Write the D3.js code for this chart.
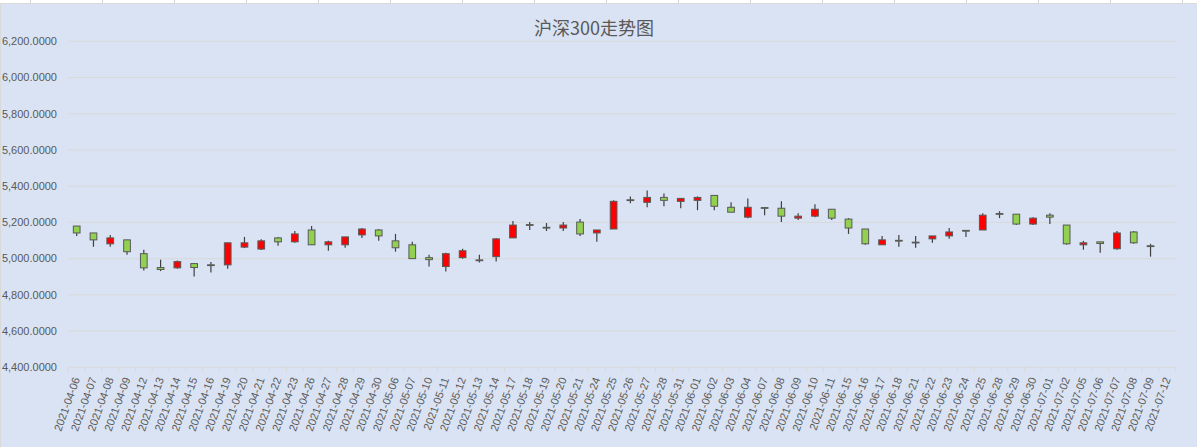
<!DOCTYPE html>
<html>
<head>
<meta charset="utf-8">
<script src="https://cdn.jsdelivr.net/npm/d3@7"></script>
<style>
  html, body { margin: 0; padding: 0; background: #ffffff; }
  svg { display: block; }
  text { font-family: "Liberation Sans", "Noto Sans CJK SC", sans-serif; fill: #595959; }
  .title { font-family: "Noto Sans CJK SC", sans-serif; font-size: 18px; }
</style>
</head>
<body>
<div id="chart"></div>
<script>
var dates = ['2021-04-06', '2021-04-07', '2021-04-08', '2021-04-09', '2021-04-12', '2021-04-13', '2021-04-14',
  '2021-04-15', '2021-04-16', '2021-04-19', '2021-04-20', '2021-04-21', '2021-04-22', '2021-04-23',
  '2021-04-26', '2021-04-27', '2021-04-28', '2021-04-29', '2021-04-30', '2021-05-06', '2021-05-07',
  '2021-05-10', '2021-05-11', '2021-05-12', '2021-05-13', '2021-05-14', '2021-05-17', '2021-05-18',
  '2021-05-19', '2021-05-20', '2021-05-21', '2021-05-24', '2021-05-25', '2021-05-26', '2021-05-27',
  '2021-05-28', '2021-05-31', '2021-06-01', '2021-06-02', '2021-06-03', '2021-06-04', '2021-06-07',
  '2021-06-08', '2021-06-09', '2021-06-10', '2021-06-11', '2021-06-15', '2021-06-16', '2021-06-17',
  '2021-06-18', '2021-06-21', '2021-06-22', '2021-06-23', '2021-06-24', '2021-06-25', '2021-06-28',
  '2021-06-29', '2021-06-30', '2021-07-01', '2021-07-02', '2021-07-05', '2021-07-06', '2021-07-07',
  '2021-07-08', '2021-07-09', '2021-07-12'];

var openValues = [5180.0, 5141.8, 5081.8, 5103.6, 5027.3, 4950.9, 4949.1, 4972.7, 4966.0, 4965.5,
  5063.6, 5052.7, 5114.5, 5092.7, 5158.2, 5076.4, 5076.4, 5130.9, 5158.2, 5098.2,
  5076.4, 5005.5, 4956.4, 5005.5, 4993.0, 5010.9, 5114.5, 5188.0, 5173.0, 5169.1,
  5201.8, 5141.8, 5163.6, 5325.0, 5310.9, 5338.1, 5316.3, 5321.8, 5349.1, 5283.6,
  5229.1, 5282.0, 5278.2, 5223.6, 5234.5, 5272.7, 5218.2, 5163.6, 5076.4, 5101.0,
  5091.0, 5109.1, 5125.4, 5156.0, 5158.2, 5249.0, 5245.4, 5190.9, 5240.0, 5185.4,
  5076.4, 5092.7, 5054.5, 5147.3, 5071.0, null];

var closeValues = [5141.8, 5103.6, 5114.5, 5038.2, 4949.1, 4940.0, 4983.6, 4950.9, 4964.0, 5087.3,
  5087.3, 5098.2, 5092.7, 5136.4, 5076.4, 5092.7, 5120.0, 5163.6, 5125.4, 5060.0,
  5000.0, 4994.5, 5027.3, 5043.6, 4991.0, 5109.1, 5185.4, 5186.0, 5171.0, 5185.4,
  5136.4, 5158.2, 5316.3, 5323.0, 5338.1, 5321.8, 5332.7, 5338.1, 5289.1, 5256.3,
  5283.6, 5280.0, 5234.5, 5234.5, 5272.7, 5223.6, 5169.1, 5081.8, 5103.6, 5099.0,
  5089.0, 5125.4, 5147.3, 5154.0, 5240.0, 5247.0, 5190.9, 5223.6, 5229.1, 5081.8,
  5087.3, 5083.6, 5141.8, 5087.3, 5069.0, null];

var highValues = [5180.0, 5141.8, 5130.9, 5103.6, 5049.1, 4994.5, 4989.1, 4972.7, 4981.8, 5087.3,
  5120.0, 5107.3, 5120.0, 5152.7, 5180.0, 5098.2, 5120.0, 5169.1, 5163.6, 5136.4,
  5092.7, 5021.8, 5032.7, 5054.5, 5021.8, 5114.5, 5207.3, 5201.8, 5196.3, 5201.8,
  5218.2, 5158.2, 5321.8, 5343.6, 5376.3, 5360.0, 5332.7, 5343.6, 5349.1, 5310.9,
  5332.7, 5283.6, 5316.3, 5250.9, 5300.0, 5272.7, 5223.6, 5163.6, 5125.4, 5130.9,
  5125.4, 5125.4, 5169.1, 5158.2, 5250.9, 5261.8, 5245.4, 5229.1, 5250.9, 5185.4,
  5098.2, 5092.7, 5152.7, 5152.7, 5081.8, null];

var lowValues = [5125.4, 5065.4, 5065.4, 5021.8, 4934.5, 4930.9, 4943.6, 4901.8, 4923.6, 4943.6,
  5058.2, 5047.3, 5070.9, 5087.3, 5076.4, 5043.6, 5060.0, 5114.5, 5098.2, 5038.2,
  5000.0, 4956.4, 4929.1, 5000.0, 4978.2, 4983.6, 5114.5, 5158.2, 5152.7, 5152.7,
  5125.4, 5092.7, 5163.6, 5305.4, 5283.6, 5289.1, 5278.2, 5267.2, 5267.2, 5256.3,
  5223.6, 5240.0, 5201.8, 5212.7, 5229.1, 5212.7, 5136.4, 5076.4, 5076.4, 5065.4,
  5060.0, 5087.3, 5109.1, 5120.0, 5158.2, 5223.6, 5185.4, 5185.4, 5190.9, 5076.4,
  5049.1, 5032.7, 5049.1, 5081.8, 5010.9, null];

var yTicks = [4400, 4600, 4800, 5000, 5200, 5400, 5600, 5800, 6000, 6200];

var width = 1197,
    height = 447,
    plot = {left: 68.3, right: 1175.7, top: 41.3, bottom: 367.3};

var candles = dates.map(function (d, i) {
    return {date: d, open: openValues[i], close: closeValues[i], high: highValues[i], low: lowValues[i]};
}).filter(function (d) { return d.open !== null; });

var xScale = d3.scaleBand()
    .domain(dates)
    .range([plot.left, plot.right]);

var yScale = d3.scaleLinear()
    .domain([4400, 6200])
    .range([plot.bottom, plot.top]);

var svg = d3.select('#chart')
    .append('svg')
    .attr('width', width)
    .attr('height', height);

// spreadsheet strip peeking above the chart
svg.append('rect')
    .attr('x', 0).attr('y', 0)
    .attr('width', width).attr('height', 3)
    .attr('fill', '#ffffff');

svg.append('g')
    .selectAll('line')
    .data(d3.range(30.5, width, 72))
    .enter()
    .append('line')
    .attr('x1', function (d) { return d; })
    .attr('x2', function (d) { return d; })
    .attr('y1', 0).attr('y2', 3)
    .attr('stroke', '#d4d4d4');

svg.append('rect')
    .attr('x', 0.5).attr('y', 3.5)
    .attr('width', width).attr('height', height)
    .attr('fill', '#dae3f3')
    .attr('stroke', '#d9d9d9');

svg.append('text')
    .classed('title', true)
    .attr('x', 594)
    .attr('y', 35)
    .attr('text-anchor', 'middle')
    .text('沪深300走势图');

// gridlines + y labels
var grid = svg.append('g');

grid.selectAll('line')
    .data(yTicks)
    .enter()
    .append('line')
    .attr('x1', plot.left)
    .attr('x2', plot.right)
    .attr('y1', function (d) { return yScale(d); })
    .attr('y2', function (d) { return yScale(d); })
    .attr('stroke', '#d9d9d9')
    .attr('stroke-width', 1);

var fmt = d3.format(',.4f');

grid.selectAll('text')
    .data(yTicks)
    .enter()
    .append('text')
    .attr('x', 57)
    .attr('y', function (d) { return yScale(d); })
    .attr('dy', '0.35em')
    .attr('text-anchor', 'end')
    .style('font-size', '11px')
    .text(function (d) { return fmt(d); });

// x axis ticks at category boundaries
var step = xScale.step();
svg.append('g')
    .selectAll('line')
    .data(d3.range(dates.length + 1))
    .enter()
    .append('line')
    .attr('x1', function (i) { return plot.left + i * step; })
    .attr('x2', function (i) { return plot.left + i * step; })
    .attr('y1', plot.bottom)
    .attr('y2', plot.bottom + 5)
    .attr('stroke', '#d9d9d9');

svg.append('g')
    .selectAll('text')
    .data(dates)
    .enter()
    .append('text')
    .attr('text-anchor', 'end')
    .style('font-size', '11px')
    .attr('transform', function (d) {
        var cx = xScale(d) + xScale.bandwidth() / 2 + 3.5;
        return 'translate(' + cx + ',' + 379 + ') rotate(-70)';
    })
    .text(function (d) { return d; });

// candles
var bodyWidth = step * 0.4;
var marks = svg.append('g')
    .selectAll('g')
    .data(candles)
    .enter()
    .append('g')
    .attr('transform', function (d) { return 'translate(' + (xScale(d.date) + xScale.bandwidth() / 2) + ',0)'; });

marks.append('line')
    .attr('x1', 0).attr('x2', 0)
    .attr('y1', function (d) { return yScale(d.high); })
    .attr('y2', function (d) { return yScale(d.low); })
    .attr('stroke', '#404040')
    .attr('stroke-width', 1.2);

marks.append('rect')
    .attr('x', -bodyWidth / 2)
    .attr('width', bodyWidth)
    .attr('y', function (d) { return yScale(Math.max(d.open, d.close)); })
    .attr('height', function (d) { return Math.max(0.8, Math.abs(yScale(d.open) - yScale(d.close))); })
    .attr('fill', function (d) { return d.close >= d.open ? '#ff0000' : '#92d050'; })
    .attr('stroke', '#595959')
    .attr('stroke-width', 1);
</script>
</body>
</html>
